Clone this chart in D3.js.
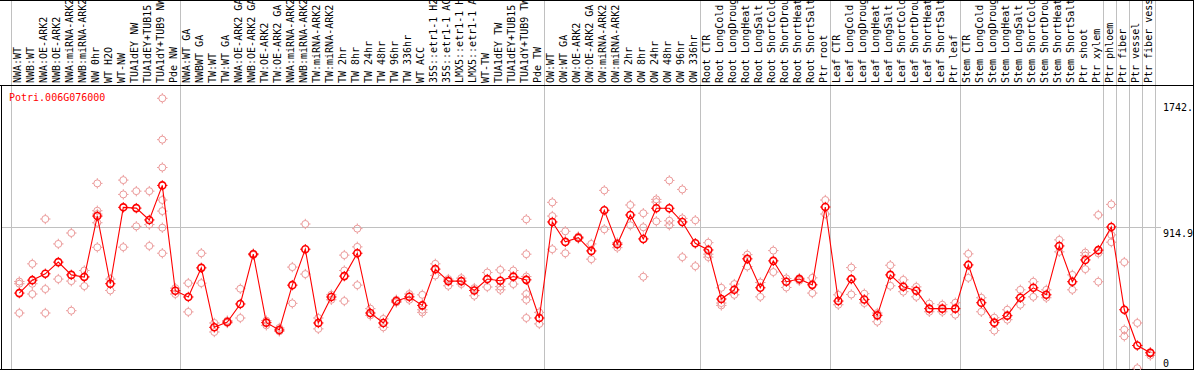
<!DOCTYPE html>
<html><head><meta charset="utf-8">
<script src="https://cdn.jsdelivr.net/npm/d3@7"></script>
<style>
html,body{margin:0;padding:0;background:#fff;}
svg{display:block;font-family:"DejaVu Sans Mono",monospace;font-size:10px;}
</style></head>
<body>
<script>
const geneName = "Potri.006G076000";
const labels = [
"NWA:WT","NWB:WT","NWA:OE-ARK2","NWB:OE-ARK2","NWA:miRNA-ARK2","NWB:miRNA-ARK2","NW 0hr","WT H2O","WT-NW","TUA1dEY NW","TUA1dEY+TUB15 NW","TUA1dY+TUB9 NW","Pde NW",
"NWA:WT GA","NWBWT GA","TW:WT","TW:WT GA","NWA:OE-ARK2 GA","NWB:OE-ARK2 GA","TW:OE-ARK2","TW:OE-ARK2 GA","NWA:miRNA-ARK2 GA","NWB:miRNA-ARK2 GA","TW:miRNA-ARK2","TW:miRNA-ARK2","TW 2hr","TW 8hr","TW 24hr","TW 48hr","TW 96hr","TW 336hr","WT ACC","35S::etr1-1 H2O","35S::etr1-1 ACC","LMX5::etr1-1 H2O","LMX5::etr1-1 ACC","WT-TW","TUA1dEY TW","TUA1dEY+TUB15 TW","TUA1dY+TUB9 TW","Pde TW",
"OW:WT","OW:WT GA","OW:OE-ARK2","OW:OE-ARK2 GA","OW:miRNA-ARK2","OW:miRNA-ARK2","OW 2hr","OW 8hr","OW 24hr","OW 48hr","OW 96hr","OW 336hr",
"Root CTR","Root LongCold","Root LongDrought","Root LongHeat","Root LongSalt","Root ShortCold","Root ShortDrought","Root ShortHeat","Root ShortSalt","Ptr root",
"Leaf CTR","Leaf LongCold","Leaf LongDrought","Leaf LongHeat","Leaf LongSalt","Leaf ShortCold","Leaf ShortDrought","Leaf ShortHeat","Leaf ShortSalt","Ptr leaf",
"Stem CTR","Stem LongCold","Stem LongDrought","Stem LongHeat","Stem LongSalt","Stem ShortCold","Stem ShortDrought","Stem ShortHeat","Stem ShortSalt","Ptr shoot",
"Ptr xylem","Ptr phloem","Ptr fiber","Ptr vessel","Ptr fiber vessel"];

const means = [
491,574,615,690,608,594,986,551,1042,1037,961,1183,506,
466,653,271,305,421,741,301,254,542,773,299,466,600,747,363,299,440,467,412,645,568,568,508,581,570,597,576,331,
948,820,847,762,1023,805,993,839,1036,1036,948,811,
768,453,512,711,525,698,564,581,544,1044,
440,581,450,348,608,532,506,391,391,391,
672,429,301,346,461,525,480,794,564,704,
767,916,384,154,107];

const reps = [
[565,551,363],[679,551,485],[967,517,363],[807,581],[877,568,378],[636,598,536],[1196,1020,999,943,785],[581,508],[1217,1125,786],[1146,920],[1146,931,794],[1742.6,1477,1298,1089,1018,911,747],[523,485],
[555,370],[747,555],[299,241],[314,299],[519,331],[745,736],[314,284],[267,245],[658,425],[935,613],[331,261],[480,448],[735,636,440],[905,788,542],[391,348],[325,271],[448,431],[485,448],[480,384,367],[679,604],[581,538],[587,549],[523,474],[623,530],[640,533,512],[636,549],[965,741,597,485,448,331],[367,293],
[1074,986,773],[888,747],[854,841],[807,709],[1151,901],[815,783],[1057,927],[1004,914,596],[1093,1076,952],[1215,956,927],[1157,971,722],[959,664],
[815,741,722],[525,427,412],[549,480],[738,662],[559,467],[764,626],[585,527],[587,570],[589,491],[1089,999],
[480,416],[655,482],[487,427],[363,307],[670,538],[576,500],[531,467],[423,371],[416,371],[429,352],
[743,589],[461,371],[333,250],[384,320],[512,416],[564,467],[512,461],[833,756],[608,512],[751,732,645],
[993,747,564],[1061,865,818],[690,256,213],[299,8],[111,90]];

const groupEnds = [-1,12,40,52,62,72,83,84,85,86,87];
const gridValues = [914.9];

const W = 1194, H = 370, headerH = 85, plotBottom = 369;
const svg = d3.select("body").append("svg").attr("width", W).attr("height", H);

const x = d3.scaleLinear().domain([0, labels.length - 1]).range([19.3, 1150.3]);
const yMax = d3.max(reps.flat());
const y = d3.scaleLinear().domain([0, yMax]).range([369.5, 98.3]);

svg.append("clipPath").attr("id","hclip").append("rect").attr("x",0).attr("y",0).attr("width",W).attr("height",headerH);

svg.append("g").selectAll("line").data(groupEnds).join("line")
  .attr("x1", d => Math.round(x(d) + 5) + 0.5).attr("x2", d => Math.round(x(d) + 5) + 0.5)
  .attr("y1", 0).attr("y2", plotBottom)
  .attr("stroke", "#c0c0c0").attr("stroke-width", 1);

svg.append("g").selectAll("line").data(gridValues).join("line")
  .attr("x1", 2).attr("x2", 1161)
  .attr("y1", d => Math.round(y(d)) + 0.5).attr("y2", d => Math.round(y(d)) + 0.5)
  .attr("stroke", "#c0c0c0").attr("stroke-width", 1);

svg.append("line").attr("x1",0).attr("x2",W).attr("y1",0.5).attr("y2",0.5).attr("stroke","#000");
svg.append("line").attr("x1",0).attr("x2",W).attr("y1",headerH+0.5).attr("y2",headerH+0.5).attr("stroke","#000");
svg.append("line").attr("x1",1.5).attr("x2",1.5).attr("y1",headerH).attr("y2",plotBottom+0.5).attr("stroke","#000");
svg.append("line").attr("x1",W-0.5).attr("x2",W-0.5).attr("y1",0).attr("y2",plotBottom+0.5).attr("stroke","#000");
svg.append("line").attr("x1",0).attr("x2",W).attr("y1",plotBottom+0.5).attr("y2",plotBottom+0.5).attr("stroke","#000");

svg.append("g").attr("clip-path","url(#hclip)").selectAll("text").data(labels).join("text")
  .attr("transform", (d,i) => `translate(${x(i) + 1.5},83) rotate(-90)`)
  .attr("fill", "#000").text(d => d);

svg.append("text").attr("x", 9).attr("y", 100.5).attr("fill", "#ff0000").text(geneName);

const axisTicks = [yMax, 914.9, 0];
const tickDy = [12.5, 9, -3.5];
const axis = d3.axisRight(y).tickValues(axisTicks).tickSize(0).tickPadding(0)
  .tickFormat(d => String(d).slice(0, 5));
const ag = svg.append("g").attr("transform", "translate(1163,0)").call(axis);
ag.select(".domain").remove();
ag.selectAll("text").attr("font-family", "DejaVu Sans Mono").attr("font-size", 10)
  .attr("fill", "#000").attr("dy", (d,i) => tickDy[i]).attr("x", 0);

function marker(g, color, sw) {
  g.append("circle").attr("r", 3.5).attr("fill", "none").attr("stroke", color).attr("stroke-width", sw);
  g.append("path").attr("d", "M0,-3.5V-5.2M0,3.5V5.2M-3.5,0H-5.2M3.5,0H5.2")
    .attr("stroke", color).attr("stroke-width", 1).attr("fill", "none");
}

const repPts = [];
reps.forEach((arr, i) => arr.forEach(v => repPts.push([i, v])));
svg.append("g").selectAll("g").data(repPts).join("g")
  .attr("transform", d => `translate(${x(d[0])},${y(d[1])})`)
  .each(function() { marker(d3.select(this), "#eb9999", 1); });

const line = d3.line().x((d,i) => x(i)).y(d => y(d));
svg.append("path").datum(means).attr("d", line).attr("fill", "none")
  .attr("stroke", "#ff0000").attr("stroke-width", 1.1);

svg.append("g").selectAll("g").data(means).join("g")
  .attr("transform", (d,i) => `translate(${x(i)},${y(d)})`)
  .each(function() { marker(d3.select(this), "#ff0000", 1.6); });
</script>
</body></html>
